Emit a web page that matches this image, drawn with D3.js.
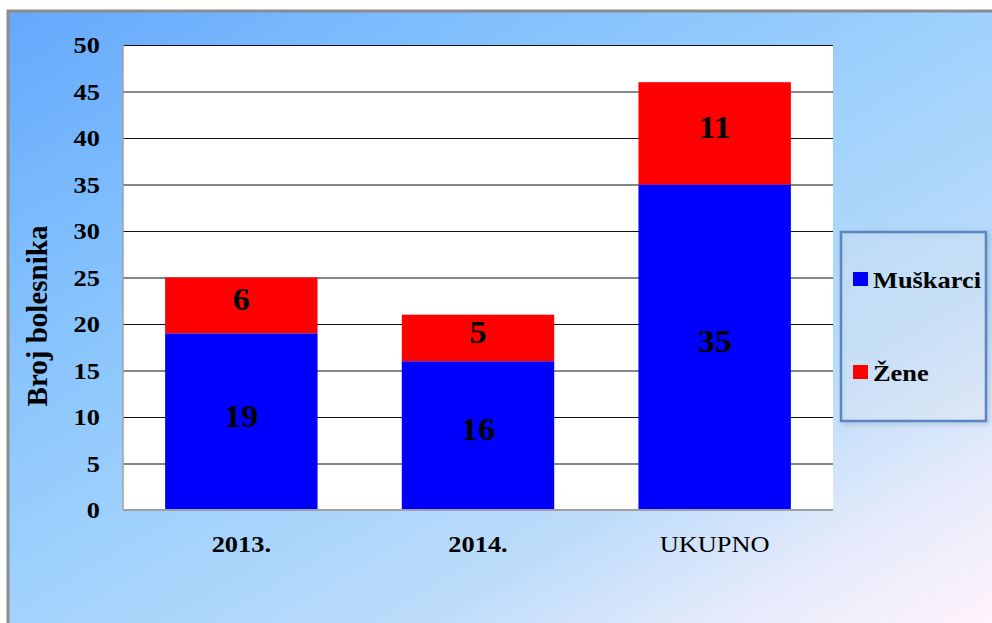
<!DOCTYPE html>
<html>
<head>
<meta charset="utf-8">
<script src="https://cdn.jsdelivr.net/npm/d3@7"></script>
<style>
  html, body { margin: 0; padding: 0; background: #fff; }
  svg { display: block; }
</style>
</head>
<body>
<svg id="chart"></svg>
<script>
const width = 992;
const height = 623;

// data
const categories = ['2013.', '2014.', 'UKUPNO'];
const muskarci = [19, 16, 35];
const zene = [6, 5, 11];
const seriesNames = ['Muškarci', 'Žene'];
const seriesColors = ['#0000ff', '#ff0000'];
const yTicks = [0, 5, 10, 15, 20, 25, 30, 35, 40, 45, 50];
const yTitle = 'Broj bolesnika';

const serif = '"Liberation Serif", "Times New Roman", serif';
const stretch = 1.1;

const margin = {left: 123, top: 45, right: 833, bottom: 510};

const svg = d3.select('#chart')
    .attr('width', width).attr('height', height);

// background panel with diagonal gradient
const defs = svg.append('defs');
const grad = defs.append('linearGradient')
    .attr('id', 'bg')
    .attr('gradientUnits', 'userSpaceOnUse')
    .attr('x1', 8).attr('y1', 11).attr('x2', 531).attr('y2', 895);
[[0, '#64a8fc'], [0.25, '#82c0fd'], [0.5, '#a0d2fc'], [0.72, '#bddcfa'], [0.86, '#e4eafb'], [1, '#fff4fb']]
    .forEach(s => grad.append('stop').attr('offset', s[0]).attr('stop-color', s[1]));

const shadow = defs.append('filter').attr('id', 'shadow')
    .attr('x', '-10%').attr('y', '-10%').attr('width', '130%').attr('height', '130%');
shadow.append('feDropShadow').attr('dx', 2).attr('dy', 2).attr('stdDeviation', 2.5)
    .attr('flood-color', '#4a6f99').attr('flood-opacity', 0.35);

svg.append('rect')
    .attr('x', 8).attr('y', 11).attr('width', 1000).attr('height', 700)
    .attr('fill', 'url(#bg)')
    .attr('stroke', '#8c8c8c').attr('stroke-width', 3);

// scales
const x = d3.scaleBand()
    .domain(categories)
    .range([margin.left, margin.right])
    .paddingInner(0.356)
    .paddingOuter(0.178);

const y = d3.scaleLinear()
    .domain([0, 50])
    .range([margin.bottom, margin.top]);

// plot area
svg.append('rect')
    .attr('x', margin.left).attr('y', margin.top)
    .attr('width', margin.right - margin.left)
    .attr('height', margin.bottom - margin.top)
    .attr('fill', '#fff');

// gridlines
const grid = svg.append('g')
    .attr('transform', `translate(${margin.left},0)`)
    .call(d3.axisLeft(y).tickValues(yTicks.filter(d => d > 0))
        .tickSize(-(margin.right - margin.left)).tickFormat(''));
grid.select('.domain').remove();
grid.selectAll('line').attr('stroke', '#111').attr('stroke-width', 1.2);

// stacked bars
const rows = categories.map((c, i) => ({cat: c, Muškarci: muskarci[i], Žene: zene[i]}));
const stacked = d3.stack().keys(seriesNames)(rows);

const layers = svg.append('g').selectAll('g')
    .data(stacked)
    .enter().append('g')
    .attr('fill', (d, i) => seriesColors[i]);

layers.selectAll('rect')
    .data(d => d)
    .enter().append('rect')
    .attr('x', d => x(d.data.cat))
    .attr('y', d => y(d[1]))
    .attr('width', x.bandwidth())
    .attr('height', d => y(d[0]) - y(d[1]));

// value labels (sit a little above the segment centre, as in the slide)
layers.selectAll('text')
    .data(d => d)
    .enter().append('text')
    .attr('transform', d => `translate(${x(d.data.cat) + x.bandwidth() / 2},${(y(d[0]) + y(d[1])) / 2 - 6}) scale(${stretch},1)`)
    .attr('dy', '0.35em')
    .attr('text-anchor', 'middle')
    .attr('fill', '#000')
    .style('font-family', serif)
    .style('font-weight', 'bold')
    .style('font-size', '31px')
    .text(d => d[1] - d[0]);

// axis lines (left & bottom)
svg.append('line')
    .attr('x1', margin.left).attr('x2', margin.left)
    .attr('y1', margin.top).attr('y2', margin.bottom)
    .attr('stroke', '#a0a0a0').attr('stroke-width', 1.5);
svg.append('line')
    .attr('x1', margin.left).attr('x2', margin.right)
    .attr('y1', margin.bottom).attr('y2', margin.bottom)
    .attr('stroke', '#a0a0a0').attr('stroke-width', 2);

// y axis labels
const yAxis = svg.append('g')
    .attr('transform', `translate(${margin.left},0)`)
    .call(d3.axisLeft(y).tickValues(yTicks).tickSize(0).tickPadding(21));
yAxis.select('.domain').remove();
yAxis.selectAll('text')
    .attr('transform', `scale(${stretch},1)`)
    .attr('fill', '#000')
    .style('font-family', serif)
    .style('font-weight', 'bold')
    .style('font-size', '24px');

// x axis labels
const xAxis = svg.append('g')
    .attr('transform', `translate(0,${margin.bottom})`)
    .call(d3.axisBottom(x).tickSize(0).tickPadding(25));
xAxis.select('.domain').remove();
xAxis.selectAll('.tick text')
    .attr('transform', `scale(${stretch},1)`)
    .attr('fill', '#000')
    .style('font-family', serif)
    .style('font-weight', d => d === 'UKUPNO' ? 'normal' : 'bold')
    .style('font-size', '24px');

// y title
svg.append('text')
    .attr('transform', 'translate(47,316) rotate(-90)')
    .attr('text-anchor', 'middle')
    .attr('fill', '#000')
    .style('font-family', serif)
    .style('font-weight', 'bold')
    .style('font-size', '29px')
    .text(yTitle);

// legend
const legend = svg.append('g');
legend.append('rect')
    .attr('x', 841).attr('y', 232).attr('width', 145).attr('height', 189)
    .attr('fill', 'rgba(255,255,255,0.22)')
    .attr('stroke', '#5a87c0').attr('stroke-width', 2.5)
    .attr('filter', 'url(#shadow)');

const legendRows = [0, 1].map(i => ({name: seriesNames[i], color: seriesColors[i], cy: i === 0 ? 279 : 372}));
const item = legend.selectAll('g.item')
    .data(legendRows)
    .enter().append('g')
    .attr('class', 'item')
    .attr('transform', d => `translate(853,${d.cy})`);
item.append('rect')
    .attr('x', 0).attr('y', -7).attr('width', 15).attr('height', 14)
    .attr('fill', d => d.color);
item.append('text')
    .attr('transform', `translate(20,9) scale(${stretch},1)`)
    .attr('fill', '#000')
    .style('font-family', serif)
    .style('font-weight', 'bold')
    .style('font-size', '24px')
    .text(d => d.name);
</script>
</body>
</html>
